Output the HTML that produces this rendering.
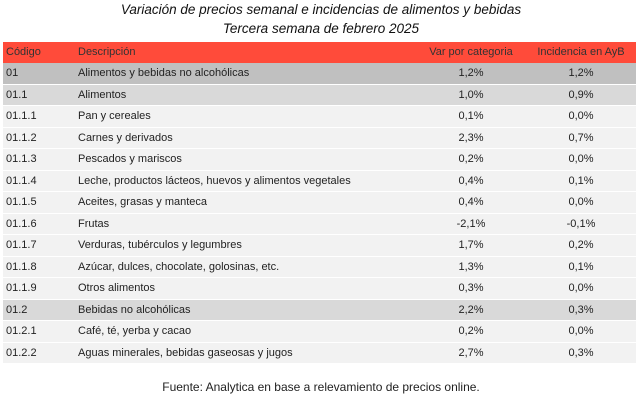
<!DOCTYPE html>
<html><head><meta charset="utf-8"><style>
body{margin:0;width:642px;height:402px;background:#fff;font-family:"Liberation Sans",sans-serif;position:relative;overflow:hidden}
.t{position:absolute;left:0;width:642px;text-align:center;font-style:italic;font-size:13.5px;color:#111}
table{position:absolute;left:3px;top:42px;width:633px;border-collapse:collapse;font-size:11px;color:#222}
td{height:20.5px;padding:0;line-height:20.5px;white-space:nowrap}
tr.h td{background:#ff4b3a;height:21px;line-height:21px;color:#333;border-bottom:0}
tr td{background:#f2f2f2;border-bottom:1px solid #fff}
tr.d td{background:#c0c0c0}
tr.m td{background:#d9d9d9}
.c{padding-left:3px;width:72px}
.v{text-align:center;width:110px}
.i{text-align:center;width:110px}
.f{position:absolute;top:380px;left:0;width:642px;text-align:center;font-size:12px;color:#222}
</style></head><body>
<div class="t" style="top:2px">Variación de precios semanal e incidencias de alimentos y bebidas</div>
<div class="t" style="top:21px">Tercera semana de febrero 2025</div>
<table>
<tr class="h"><td class="c">Código</td><td>Descripción</td><td class="v">Var por categoria</td><td class="i">Incidencia en AyB</td></tr>
<tr class="d"><td class="c">01</td><td>Alimentos y bebidas no alcohólicas</td><td class="v">1,2%</td><td class="i">1,2%</td></tr>
<tr class="m"><td class="c">01.1</td><td>Alimentos</td><td class="v">1,0%</td><td class="i">0,9%</td></tr>
<tr><td class="c">01.1.1</td><td>Pan y cereales</td><td class="v">0,1%</td><td class="i">0,0%</td></tr>
<tr><td class="c">01.1.2</td><td>Carnes y derivados</td><td class="v">2,3%</td><td class="i">0,7%</td></tr>
<tr><td class="c">01.1.3</td><td>Pescados y mariscos</td><td class="v">0,2%</td><td class="i">0,0%</td></tr>
<tr><td class="c">01.1.4</td><td>Leche, productos lácteos, huevos y alimentos vegetales</td><td class="v">0,4%</td><td class="i">0,1%</td></tr>
<tr><td class="c">01.1.5</td><td>Aceites, grasas y manteca</td><td class="v">0,4%</td><td class="i">0,0%</td></tr>
<tr><td class="c">01.1.6</td><td>Frutas</td><td class="v">-2,1%</td><td class="i">-0,1%</td></tr>
<tr><td class="c">01.1.7</td><td>Verduras, tubérculos y legumbres</td><td class="v">1,7%</td><td class="i">0,2%</td></tr>
<tr><td class="c">01.1.8</td><td>Azúcar, dulces, chocolate, golosinas, etc.</td><td class="v">1,3%</td><td class="i">0,1%</td></tr>
<tr><td class="c">01.1.9</td><td>Otros alimentos</td><td class="v">0,3%</td><td class="i">0,0%</td></tr>
<tr class="m"><td class="c">01.2</td><td>Bebidas no alcohólicas</td><td class="v">2,2%</td><td class="i">0,3%</td></tr>
<tr><td class="c">01.2.1</td><td>Café, té, yerba y cacao</td><td class="v">0,2%</td><td class="i">0,0%</td></tr>
<tr><td class="c">01.2.2</td><td>Aguas minerales, bebidas gaseosas y jugos</td><td class="v">2,7%</td><td class="i">0,3%</td></tr>
</table>
<div class="f">Fuente: Analytica en base a relevamiento de precios online.</div>
</body></html>
